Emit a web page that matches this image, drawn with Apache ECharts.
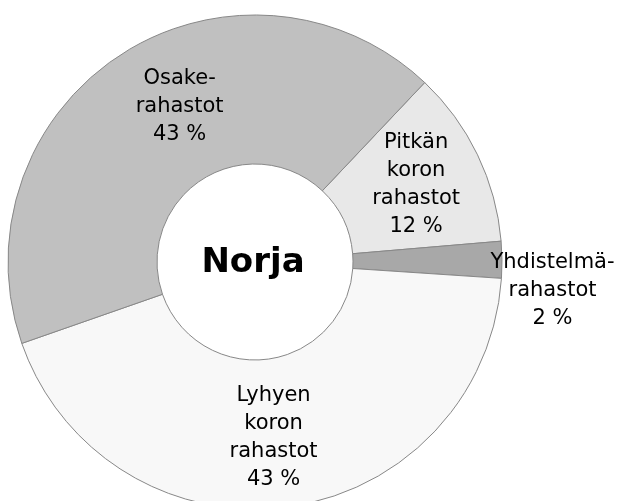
<!DOCTYPE html>
<html><head><meta charset="utf-8">
<script src="https://cdn.jsdelivr.net/npm/echarts@6/dist/echarts.min.js"></script>
<style>html,body{margin:0;padding:0;background:#fff}#c{width:618px;height:501px}</style>
</head><body><div id="c"></div>
<script>
const categories = ["Pitkän\nkoron\nrahastot", "Yhdistelmä-\nrahastot", "Lyhyen\nkoron\nrahastot", "Osake-\nrahastot"];
const values = [11.6, 2.4, 43.6, 42.4];
const percentLabels = ["12 %", "2 %", "43 %", "43 %"];
const colors = ["#e8e8e8", "#a8a8a8", "#f8f8f8", "#c0c0c0"];
const labelShift = [[3, -1], [122, 30], [-5, 2], [20, -8]];
const centerTitle = "Norja";

const chart = echarts.init(document.getElementById('c'), null, {renderer: 'canvas'});
chart.setOption({
  animation: false,
  backgroundColor: '#fff',
  series: [{
    type: 'pie',
    center: [255, 262],
    radius: [98, 247],
    startAngle: 46.6,
    clockwise: true,
    silent: true,
    itemStyle: {borderColor: '#888', borderWidth: 1},
    label: {
      show: true, position: 'inside', color: '#000',
      fontFamily: 'DejaVu Sans', fontSize: 21, lineHeight: 28, align: 'center',
      formatter: p => categories[p.dataIndex] + '\n' + percentLabels[p.dataIndex]
    },
    labelLine: {show: false},
    labelLayout: p => ({dx: labelShift[p.dataIndex][0], dy: labelShift[p.dataIndex][1]}),
    data: values.map((v, i) => ({value: v, name: categories[i], itemStyle: {color: colors[i]}}))
  }],
  graphic: [{
    type: 'text', z: 100, x: 253, y: 263,
    style: {text: centerTitle, textAlign: 'center', textVerticalAlign: 'middle',
      font: 'bold 34px "DejaVu Sans"', fill: '#000'}
  }]
});
</script></body></html>
